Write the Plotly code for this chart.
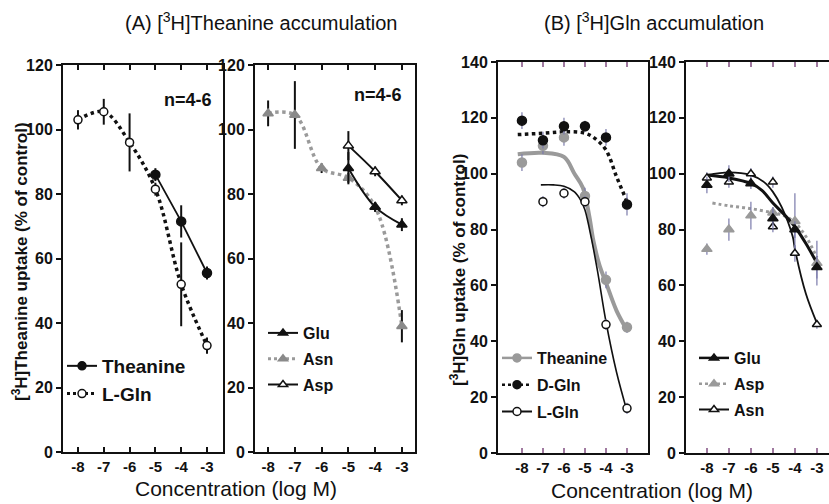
import plotly.graph_objects as go

W, H = 829, 504
FONT = "Liberation Sans, Arial, sans-serif"

# ---------------- data ----------------
conc = [-8, -7, -6, -5, -4, -3]
conc_labels = ["-8", "-7", "-6", "-5", "-4", "-3"]

# Panel A-left : [3H]Theanine accumulation
aL_thea_x = [-5, -4, -3]
aL_thea_y = [86, 71.5, 55.5]
aL_thea_err = [2, 5, 2]
aL_lgln_x = [-8, -7, -6, -5, -4, -3]
aL_lgln_y = [103, 105.5, 96, 81.5, 52, 33]
aL_lgln_err = [3, 4, 9, 2, 13, 2.5]

# Panel A-right
aR_glu_x = [-5, -4, -3]
aR_glu_y = [88, 76, 70.5]
aR_glu_err = [5, 1.5, 2]
aR_asn_x = [-8, -7, -6, -5, -4, -3]
aR_asn_y = [105, 104.5, 88, 85, 76, 39]
aR_asn_err = [4, 10.5, 1.5, 1.5, 1.5, 5]
aR_asp_x = [-5, -4, -3]
aR_asp_y = [95, 87, 78]
aR_asp_err = [4.5, 1.5, 1.5]

# Panel B-left : [3H]Gln accumulation
bL_thea_x = [-8, -7, -6, -5, -4, -3]
bL_thea_y = [104, 110, 113, 92, 62, 45]
bL_thea_err = [3, 3, 3, 3, 3, 2]
bL_dgln_x = [-8, -7, -6, -5, -4, -3]
bL_dgln_y = [119, 112, 117, 117, 113, 89]
bL_dgln_err = [3, 3, 3, 2, 3, 4]
bL_lgln_x = [-7, -6, -5, -4, -3]
bL_lgln_y = [90, 93, 90, 46, 16]
bL_lgln_err = [2, 2, 2, 2, 2]
# fitted curves
bL_thea_fit_x = [-8.2, -7, -6, -5.5, -5.1, -4.8, -4.6, -4.3, -4, -3.5, -3]
bL_thea_fit_y = [107, 107.5, 106, 100, 95, 85, 76, 67, 61, 51, 44]
bL_dgln_fit_x = [-8.2, -7, -6, -5, -4.5, -4, -3.5, -3]
bL_dgln_fit_y = [114, 114.5, 115, 114.5, 112.5, 108.5, 99, 90]
bL_lgln_fit_x = [-7.1, -6.5, -6, -5.5, -5.2, -5, -4.7, -4.4, -4, -3.5, -3]
bL_lgln_fit_y = [96, 96, 95.5, 93.5, 90.5, 87, 77, 65, 47, 29, 15]

# Panel B-right
bR_glu_x = [-8, -7, -6, -5, -4, -3]
bR_glu_y = [96, 100, 96.5, 84, 80, 66.5]
bR_glu_err = [3, 3, 2, 4, 3, 4]
bR_asp_x = [-8, -7, -6, -5, -4, -3]
bR_asp_y = [73, 80, 85, 86, 83, 68]
bR_asp_err = [2, 4, 5, 2, 10, 8]
bR_asn_x = [-8, -7, -6, -5, -5, -4, -3]
bR_asn_y = [98.5, 97, 100, 97, 81, 71.5, 46]
bR_asn_err = [2, 2, 2, 2, 2, 3, 1.5]
bR_glu_fit_x = [-8, -7, -6, -5.5, -5, -4.5, -4, -3.5, -3]
bR_glu_fit_y = [99.5, 98.5, 96.5, 94, 89.5, 85.5, 81, 75, 68]
bR_asp_fit_x = [-7.75, -7, -6, -5, -4.5, -4, -3.5, -3]
bR_asp_fit_y = [89.5, 88.5, 87.5, 86, 85, 82.5, 77.5, 70]
bR_asn_fit_x = [-8, -7, -6, -5.4, -5, -4.6, -4.1, -4, -3.5, -3]
bR_asn_fit_y = [99.5, 100.5, 99.5, 97, 93.5, 88, 77.5, 73, 57, 46.5]

# ---------------- helpers ----------------
def dxd(p0, p1):
    return [p0 / W, p1 / W]

def dyd(top, bot):
    return [1 - bot / H, 1 - top / H]

BLACK = "#111111"
GRAY = "#9a9a9a"
ERRB = "#7b7bab"

fig = go.Figure()

def add_markers(x, y, err, ax, symbol, fill, line_col, size=9, ecol=BLACK, ew=2):
    fig.add_trace(go.Scatter(
        x=x, y=y, mode="markers", xaxis="x" + ax, yaxis="y" + ax,
        marker=dict(symbol=symbol, size=size, color=fill,
                    line=dict(color=line_col, width=1.5)),
        error_y=dict(type="data", array=err, visible=True, color=ecol,
                     thickness=ew, width=0),
        showlegend=False, hoverinfo="skip"))

def add_line(x, y, ax, color, width, dash="solid", shape="spline"):
    fig.add_trace(go.Scatter(
        x=x, y=y, mode="lines", xaxis="x" + ax, yaxis="y" + ax,
        line=dict(color=color, width=width, dash=dash, shape=shape, smoothing=1.0),
        showlegend=False, hoverinfo="skip"))

def add_legend(name, ax, leg, color, width, dash, symbol, fill, mcol, group):
    fig.add_trace(go.Scatter(
        x=[None], y=[None], mode="lines+markers", name=name,
        xaxis="x" + ax, yaxis="y" + ax, legend=leg, legendgroup=group,
        line=dict(color=color, width=width, dash=dash),
        marker=dict(symbol=symbol, size=8, color=fill, line=dict(color=mcol, width=1.5))))

# ---- A-left ----
add_line(aL_lgln_x, aL_lgln_y, "", BLACK, 3.5, "dot")
add_line(aL_thea_x, aL_thea_y, "", BLACK, 1.8, "solid", "linear")
add_markers(aL_lgln_x, aL_lgln_y, aL_lgln_err, "", "circle", "white", BLACK, 8)
add_markers(aL_thea_x, aL_thea_y, aL_thea_err, "", "circle", BLACK, BLACK, 9)
add_legend("Theanine", "", "legend", BLACK, 2, "solid", "circle", BLACK, BLACK, "a1")
add_legend("L-Gln", "", "legend", BLACK, 3, "dot", "circle", "white", BLACK, "a2")

# ---- A-right ----
add_line(aR_asn_x, aR_asn_y, "2", GRAY, 3.5, "dot")
add_line(aR_glu_x, aR_glu_y, "2", BLACK, 2, "solid")
add_line(aR_asp_x, aR_asp_y, "2", BLACK, 2, "solid")
add_markers(aR_asn_x, aR_asn_y, aR_asn_err, "2", "triangle-up", "#8a8a8a", "#8a8a8a", 9)
add_markers(aR_glu_x, aR_glu_y, aR_glu_err, "2", "triangle-up", BLACK, BLACK, 9)
add_markers(aR_asp_x, aR_asp_y, aR_asp_err, "2", "triangle-up", "white", BLACK, 9)
add_legend("Glu", "2", "legend2", BLACK, 2, "solid", "triangle-up", BLACK, BLACK, "b1")
add_legend("Asn", "2", "legend2", GRAY, 3, "dot", "triangle-up", "#8a8a8a", "#8a8a8a", "b2")
add_legend("Asp", "2", "legend2", BLACK, 2, "solid", "triangle-up", "white", BLACK, "b3")

# ---- B-left ----
add_line(bL_thea_fit_x, bL_thea_fit_y, "3", GRAY, 4)
add_line(bL_dgln_fit_x, bL_dgln_fit_y, "3", BLACK, 3.5, "dot")
add_line(bL_lgln_fit_x, bL_lgln_fit_y, "3", BLACK, 1.6)
add_markers(bL_thea_x, bL_thea_y, bL_thea_err, "3", "circle", GRAY, GRAY, 9, ERRB, 1.2)
add_markers(bL_dgln_x, bL_dgln_y, bL_dgln_err, "3", "circle", BLACK, BLACK, 9, ERRB, 1.2)
add_markers(bL_lgln_x, bL_lgln_y, bL_lgln_err, "3", "circle", "white", BLACK, 8, ERRB, 1.2)
add_legend("Theanine", "3", "legend3", GRAY, 2.5, "solid", "circle", GRAY, GRAY, "c1")
add_legend("D-Gln", "3", "legend3", BLACK, 2.5, "dot", "circle", BLACK, BLACK, "c2")
add_legend("L-Gln", "3", "legend3", BLACK, 2, "solid", "circle", "white", BLACK, "c3")

# ---- B-right ----
add_line(bR_asp_fit_x, bR_asp_fit_y, "4", GRAY, 3, "dot")
add_line(bR_asn_fit_x, bR_asn_fit_y, "4", BLACK, 1.8)
add_line(bR_glu_fit_x, bR_glu_fit_y, "4", BLACK, 3)
add_markers(bR_asp_x, bR_asp_y, bR_asp_err, "4", "triangle-up", GRAY, GRAY, 9, ERRB, 1.2)
add_markers(bR_asn_x, bR_asn_y, bR_asn_err, "4", "triangle-up", "white", BLACK, 8, ERRB, 1.2)
add_markers(bR_glu_x, bR_glu_y, bR_glu_err, "4", "triangle-up", BLACK, BLACK, 9, ERRB, 1.2)
add_legend("Glu", "4", "legend4", BLACK, 2.5, "solid", "triangle-up", BLACK, BLACK, "d1")
add_legend("Asp", "4", "legend4", GRAY, 2.5, "dot", "triangle-up", GRAY, GRAY, "d2")
add_legend("Asn", "4", "legend4", BLACK, 2, "solid", "triangle-up", "white", BLACK, "d3")

# ---------------- axes ----------------
xtickfont = dict(family=FONT, size=15, color="#111", weight="bold")
ytickfont = dict(family=FONT, size=16, color="#111", weight="bold")

def xax(dom, rng, anchor, tickcol="#111"):
    return dict(domain=dom, range=rng, anchor=anchor, showline=True, linecolor="#111",
                linewidth=2, mirror="ticks", ticks="inside", ticklen=5, tickwidth=1.5,
                tickcolor=tickcol, tickvals=conc, ticktext=conc_labels, tickfont=xtickfont,
                showgrid=False, zeroline=False, fixedrange=True, automargin=False)

def yax(dom, rng, anchor, mirror=True):
    return dict(domain=dom, range=rng, anchor=anchor, showline=True, linecolor="#111",
                linewidth=2, mirror=mirror, ticks="outside", ticklen=5, tickwidth=2,
                tickcolor="#111", dtick=20, tickfont=ytickfont,
                showgrid=False, zeroline=False, fixedrange=True, automargin=False)

yA = dyd(65, 452)
yB = dyd(62, 453)

legfont = lambda size, weight: dict(family=FONT, size=size, color="#111", weight=weight)

fig.update_layout(
    template="none",
    width=W, height=H, margin=dict(l=0, r=0, t=0, b=0, pad=0, autoexpand=False),
    paper_bgcolor="white", plot_bgcolor="white",
    font=dict(family=FONT, color="#111"),
    xaxis=xax(dxd(63, 223), [-8.58, -2.38], "y"),
    yaxis=yax(yA, [0, 120], "x"),
    xaxis2=xax(dxd(255, 415), [-8.49, -2.51], "y2"),
    yaxis2=yax(yA, [0, 120], "x2"),
    xaxis3=xax(dxd(498, 648), [-9.14, -2.0], "y3", "#a07aa0"),
    yaxis3=yax(yB, [0, 140], "x3"),
    xaxis4=xax(dxd(686, 829), [-8.95, -2.45], "y4", "#a07aa0"),
    yaxis4=yax(yB, [0, 140], "x4", mirror=False),
    legend=dict(x=62 / W, y=1 - 347 / H, xanchor="left", yanchor="top",
                bgcolor="rgba(0,0,0,0)", font=legfont(19, "bold"), itemwidth=30,
                tracegroupgap=0, traceorder="grouped"),
    legend2=dict(x=263 / W, y=1 - 316 / H, xanchor="left", yanchor="top",
                 bgcolor="rgba(0,0,0,0)", font=legfont(16, "bold"), itemwidth=30,
                 tracegroupgap=2, traceorder="grouped"),
    legend3=dict(x=497 / W, y=1 - 341 / H, xanchor="left", yanchor="top",
                 bgcolor="rgba(0,0,0,0)", font=legfont(16, "bold"), itemwidth=30,
                 tracegroupgap=3, traceorder="grouped"),
    legend4=dict(x=694 / W, y=1 - 341 / H, xanchor="left", yanchor="top",
                 bgcolor="rgba(0,0,0,0)", font=legfont(16, "bold"), itemwidth=30,
                 tracegroupgap=2, traceorder="grouped"),
)

ann = []
def A(text, x, y, size, bold=False, angle=0, xanchor="center"):
    ann.append(dict(text=("<b>%s</b>" % text) if bold else text, x=x / W, y=1 - y / H,
                    xref="paper", yref="paper", showarrow=False, textangle=angle,
                    xanchor=xanchor, yanchor="middle",
                    font=dict(family=FONT, size=size, color="#111")))

A("(A) [<sup>3</sup>H]Theanine accumulation", 261, 22, 20)
A("(B) [<sup>3</sup>H]Gln accumulation", 654, 22, 20)
A("n=4-6", 214, 100, 18, bold=True, xanchor="right")
A("n=4-6", 404, 95, 18, bold=True, xanchor="right")
A("Concentration (log M)", 236, 488, 21)
A("Concentration (log M)", 652, 490, 21)
A("[<sup>3</sup>H]Theanine uptake (% of control)", 20, 262, 17, bold=True, angle=-90)
A("[<sup>3</sup>H]Gln uptake (% of control)", 458, 270, 17, bold=True, angle=-90)
fig.update_layout(annotations=ann)

fig.write_html("out.html", config={"displayModeBar": False},
               post_script="document.body.style.margin='0';document.body.style.overflow='hidden';")
